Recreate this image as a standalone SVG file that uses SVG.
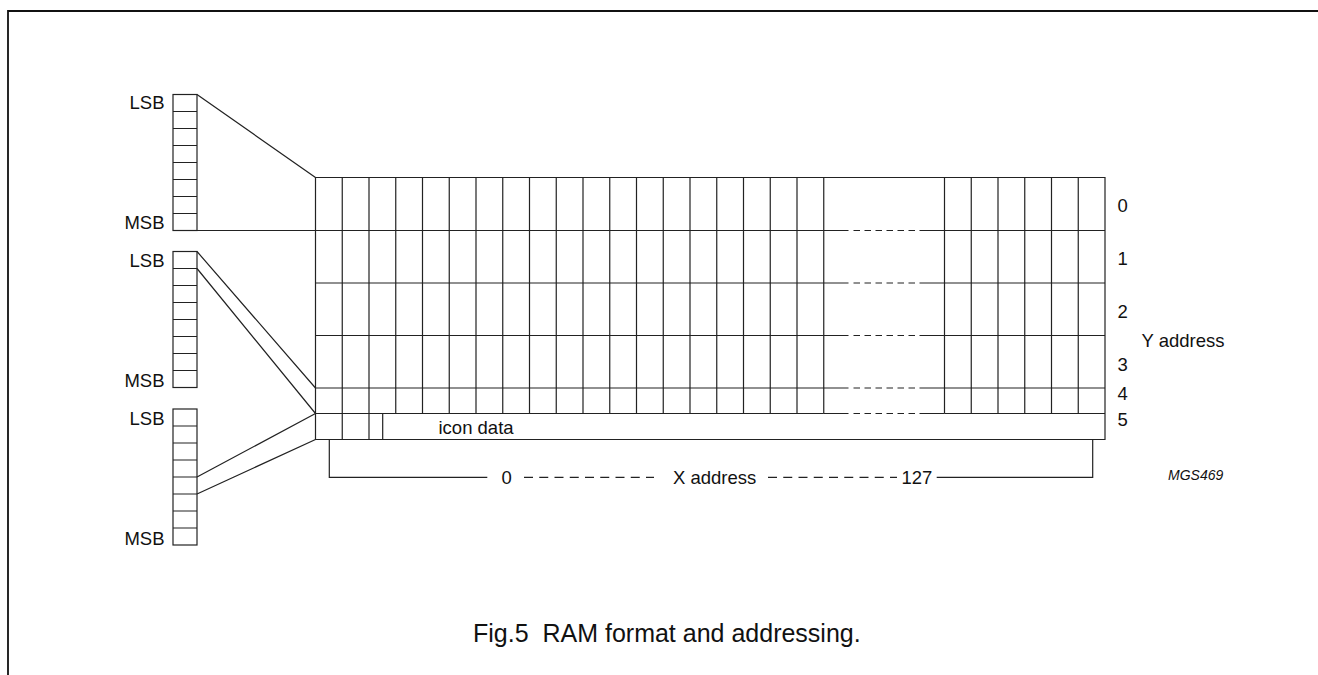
<svg xmlns="http://www.w3.org/2000/svg" width="1318" height="675" viewBox="0 0 1318 675">
<style>
.ln{fill:none;stroke:#222;stroke-width:1.2}
.dash{fill:none;stroke:#222;stroke-width:1.2;stroke-dasharray:6.5 4.5}
.xd{fill:none;stroke:#222;stroke-width:1.2;stroke-dasharray:9 6.25}
.t{font-family:"Liberation Sans",Arial,sans-serif;font-size:18.5px;fill:#111}
.e{text-anchor:end}
.cap{font-family:"Liberation Sans",Arial,sans-serif;font-size:25px;fill:#111;white-space:pre}
.id{font-family:"Liberation Sans",Arial,sans-serif;font-size:14px;font-style:italic;fill:#111}
</style>
<defs>
<g id="byte">
<rect x="0" y="0" width="24" height="136" class="ln"/>
<path class="ln" d="M0,17H24M0,34H24M0,51H24M0,68H24M0,85H24M0,102H24M0,119H24"/>
</g>
</defs>
<path id="frame" d="M8,675V11H1318" fill="none" stroke="#111" stroke-width="1.8"/>

<g id="byte0">
<use href="#byte" x="173" y="94.5"/>
<text class="t e" x="164.5" y="109">LSB</text>
<text class="t e" x="164.5" y="229">MSB</text>
</g>
<g id="byte1">
<use href="#byte" x="173" y="251.5"/>
<text class="t e" x="164.5" y="267">LSB</text>
<text class="t e" x="164.5" y="387">MSB</text>
</g>
<g id="byte2">
<use href="#byte" x="173" y="409"/>
<text class="t e" x="164.5" y="425">LSB</text>
<text class="t e" x="164.5" y="545">MSB</text>
</g>

<g id="ram">
<path class="ln" d="M315.5,177.5H1105V439.5H315.5Z"/>
<path class="ln" d="M315.5,230.5H823.75M944.5,230.5H1105M315.5,283H823.75M944.5,283H1105M315.5,335.5H823.75M944.5,335.5H1105M315.5,388H823.75M944.5,388H1105M315.5,413.5H823.75M944.5,413.5H1105"/>
<path class="ln" d="M823.75,230.5H848.5M919.5,230.5H944.5M823.75,283H848.5M919.5,283H944.5M823.75,335.5H848.5M919.5,335.5H944.5M823.75,388H848.5M919.5,388H944.5M823.75,413.5H848.5M919.5,413.5H944.5"/>
<path class="dash" d="M853.5,230.5H915M853.5,283H915M853.5,335.5H915M853.5,388H915M853.5,413.5H915"/>
<path class="ln" d="M342.25,177.5V439.5M369,177.5V439.5M382.7,413.5V439.5M395.75,177.5V413.5M422.5,177.5V413.5M449.25,177.5V413.5M476,177.5V413.5M502.75,177.5V413.5M529.5,177.5V413.5M556.25,177.5V413.5M583,177.5V413.5M609.75,177.5V413.5M636.5,177.5V413.5M663.25,177.5V413.5M690,177.5V413.5M716.75,177.5V413.5M743.5,177.5V413.5M770.25,177.5V413.5M797,177.5V413.5M823.75,177.5V413.5M944.5,177.5V413.5M971.25,177.5V413.5M998,177.5V413.5M1024.75,177.5V413.5M1051.5,177.5V413.5M1078.25,177.5V413.5"/>
<text class="t" x="438.5" y="434">icon data</text>
</g>

<g id="y-labels">
<text class="t" x="1117.5" y="211.5">0</text>
<text class="t" x="1117.5" y="264.5">1</text>
<text class="t" x="1117.5" y="318">2</text>
<text class="t" x="1117.5" y="370.5">3</text>
<text class="t" x="1117.5" y="400">4</text>
<text class="t" x="1117.5" y="426">5</text>
<text class="t" x="1141.5" y="346.5">Y address</text>
</g>

<g id="x-address">
<path class="ln" d="M329.3,439.5V477.3H487.3M1092.7,439.5V477.3H936.7"/>
<path class="xd" d="M524,477.3H654M768,477.3H897"/>
<text class="t" x="501.5" y="484">0</text>
<text class="t" x="673" y="484">X address</text>
<text class="t" x="901.5" y="484">127</text>
</g>

<g id="connectors">
<path class="ln" d="M197,94.5L315.5,177.5M197,230.5H315.5M197,251.5L315.5,388M197,268.5L315.5,413.5M197,477L315.5,413.5M197,494L315.5,439.5"/>
</g>

<text class="id" x="1168" y="480">MGS469</text>
<text class="cap" x="473" y="641.5" xml:space="preserve">Fig.5  RAM format and addressing.</text>
</svg>
